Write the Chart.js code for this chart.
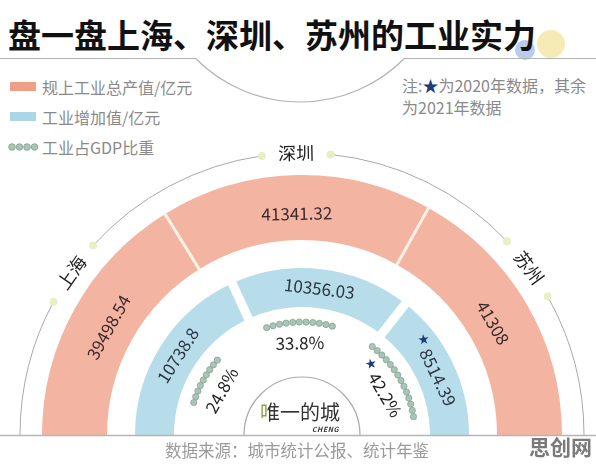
<!DOCTYPE html>
<html><head><meta charset="utf-8">
<script src="https://cdn.jsdelivr.net/npm/chart.js@4"></script>
<style>
html,body{margin:0;padding:0;background:#fff;}
#wrap{position:relative;width:596px;height:464px;overflow:hidden;font-family:"Noto Sans CJK SC","Noto Sans",sans-serif;}
.abs{position:absolute;white-space:nowrap;}
canvas{position:absolute;left:0;top:0;}
.leg{position:absolute;left:42px;font-size:16px;line-height:22px;color:#8a8a8a;white-space:nowrap;}
.wei{background:linear-gradient(90deg,#8e9c3a 42%,#333 42%);-webkit-background-clip:text;background-clip:text;color:transparent;}
</style></head><body>
<div id="wrap">
<svg class="abs" style="left:0;top:0" width="596" height="464">
  <circle cx="525" cy="50" r="10" fill="#a9bfe6" opacity="0.8"/>
  <circle cx="551" cy="44" r="14" fill="#f4e7a8" opacity="0.85"/>
  <path d="M0 58.5 H195.6 A147 147 0 0 0 404.4 58.5 H596" fill="none" stroke="#b3b3b3" stroke-width="1.2"/>
  <rect x="10" y="82" width="26" height="9" fill="#ef9f86"/>
  <rect x="10" y="112" width="26" height="9" fill="#aad6e8"/>
  <g fill="#aac6b6" stroke="#7f9f8f" stroke-width="0.8">
    <circle cx="12" cy="147" r="3.3"/><circle cx="19.5" cy="147" r="3.3"/><circle cx="27" cy="147" r="3.3"/><circle cx="34.5" cy="147" r="3.3"/>
  </g>
</svg>
<div class="abs" style="left:8px;top:14px;font-size:33px;line-height:40px;font-weight:700;color:#111;">盘一盘上海、深圳、苏州的工业实力</div>
<div class="leg" style="top:76px;">规上工业总产值/亿元</div>
<div class="leg" style="top:106px;">工业增加值/亿元</div>
<div class="leg" style="top:136px;">工业占GDP比重</div>
<div class="abs" style="left:402px;top:74px;font-size:16px;line-height:22px;color:#8a8a8a;">注:<span style="color:#1d3b7c">★</span>为2020年数据，其余<br>为2021年数据</div>
<canvas id="c1" width="596" height="464"></canvas>
<canvas id="c2" width="596" height="464"></canvas>
<svg class="abs" style="left:0;top:0" width="596" height="464">
  <line x1="0" y1="435.5" x2="596" y2="435.5" stroke="#b5b5b5" stroke-width="1.5"/>
</svg>
<div class="abs" style="left:240px;width:120px;text-align:center;top:398px;font-size:20px;line-height:28px;color:#333;"><span class="wei">唯</span>一的城</div>
<div class="abs" style="left:312px;top:425px;font-size:7px;line-height:9px;font-weight:700;font-style:italic;color:#333;letter-spacing:0.5px;">CHENG</div>
<div class="abs" style="left:165px;top:438px;font-size:16.5px;line-height:24px;color:#9a9a9a;">数据来源：城市统计公报、统计年鉴</div>
<div class="abs" style="left:529px;top:431px;font-size:21px;line-height:30px;font-weight:700;color:#7a7a7a;">思创网</div>
</div>
<script>
// ---- data ----
const cities = ['上海', '深圳', '苏州'];
const industrialOutput = [39498.54, 41341.32, 41308];   // 规上工业总产值/亿元
const valueAdded = [10738.8, 10356.03, 8514.39];         // 工业增加值/亿元
const gdpShare = [24.8, 33.8, 42.2];                     // 工业占GDP比重 %
const is2020 = [false, false, true];                     // ★ 2020年数据

// ---- style ----
const PINK = '#f4b4a2', BLUE = '#b7dcea';
const FONT = '"Noto Sans CJK SC","Noto Sans",sans-serif';

function arcs(chart, di) {
  return chart.getDatasetMeta(di).data.map(a => a.getProps(['x','y','startAngle','endAngle','innerRadius','outerRadius'], true));
}
function drawGaps(chart, di, width, color) {
  const ctx = chart.ctx, list = arcs(chart, di);
  ctx.save(); ctx.strokeStyle = color; ctx.lineWidth = width;
  for (let i = 1; i < list.length; i++) {
    const a = list[i], t = a.startAngle;
    ctx.beginPath();
    ctx.moveTo(a.x + (a.innerRadius - 1) * Math.cos(t), a.y + (a.innerRadius - 1) * Math.sin(t));
    ctx.lineTo(a.x + (a.outerRadius + 1) * Math.cos(t), a.y + (a.outerRadius + 1) * Math.sin(t));
    ctx.stroke();
  }
  ctx.restore();
}
function tangentText(ctx, text, cx, cy, r, theta, font, color, star) {
  ctx.save();
  ctx.translate(cx + r * Math.cos(theta), cy + r * Math.sin(theta));
  ctx.rotate(theta + Math.PI / 2);
  ctx.textBaseline = 'middle';
  ctx.font = font;
  const w = ctx.measureText(text).width;
  const sw = star ? 15 : 0;
  let x0 = -(w + sw) / 2;
  if (star) {
    ctx.font = '11px ' + FONT; ctx.fillStyle = '#1d3b7c'; ctx.textAlign = 'left';
    ctx.fillText('★', x0, -4);
    x0 += sw;
  }
  ctx.font = font; ctx.fillStyle = color; ctx.textAlign = 'left';
  ctx.fillText(text, x0, 0);
  ctx.restore();
}
const mid = a => (a.startAngle + a.endAngle) / 2;

const pinkPlugin = {
  id: 'pinkDecor',
  afterDatasetsDraw(chart) {
    const ctx = chart.ctx;
    drawGaps(chart, 0, 3, '#f8f1e4');
    const list = arcs(chart, 0);
    const cx = list[0].x, cy = list[0].y;
    // value labels
    list.forEach((a, i) => {
      tangentText(ctx, String(industrialOutput[i]), cx, cy, (a.innerRadius + a.outerRadius) / 2 - 6, mid(a), '17px ' + FONT, '#3a2b2b', false);
    });
    // outer thin arc with city labels
    const R = 282, half = 7 * Math.PI / 180;
    const labelAngles = list.map(a => -Math.PI / 2 + (mid(a) + Math.PI / 2) * 0.9);
    let start = -Math.PI;
    ctx.save(); ctx.strokeStyle = '#a8a8a8'; ctx.lineWidth = 1;
    labelAngles.forEach(t => {
      ctx.beginPath(); ctx.arc(cx, cy, R, start, t - half); ctx.stroke();
      start = t + half;
    });
    ctx.beginPath(); ctx.arc(cx, cy, R, start, 0); ctx.stroke();
    ctx.fillStyle = '#e8f0c2';
    labelAngles.forEach(t => {
      [t - half, t + half].forEach(e => {
        ctx.beginPath(); ctx.arc(cx + R * Math.cos(e), cy + R * Math.sin(e), 4, 0, Math.PI * 2); ctx.fill();
      });
    });
    ctx.restore();
    labelAngles.forEach((t, i) => tangentText(ctx, cities[i], cx, cy, R, t, '18px ' + FONT, '#222', false));
  }
};

const pinkChart = new Chart(document.getElementById('c1'), {
  type: 'doughnut',
  data: { labels: cities, datasets: [{ data: industrialOutput, backgroundColor: PINK, borderWidth: 0 }] },
  options: {
    responsive: false, devicePixelRatio: 1, animation: false, events: [],
    rotation: -90, circumference: 180, cutout: '75%',
    layout: { padding: { left: 42, right: 34, top: 175, bottom: 29 } },
    plugins: { legend: { display: false }, tooltip: { enabled: false } }
  },
  plugins: [pinkPlugin]
});

const bluePlugin = {
  id: 'blueDecor',
  afterDatasetsDraw(chart) {
    const ctx = chart.ctx;
    drawGaps(chart, 0, 9, '#ffffff');
    const list = arcs(chart, 0);
    const cx = list[0].x, cy = list[0].y;
    list.forEach((a, i) => {
      tangentText(ctx, String(valueAdded[i]), cx, cy, (a.innerRadius + a.outerRadius) / 2, mid(a), '17px ' + FONT, '#2b3640', is2020[i]);
    });
    // GDP share dotted arcs, centred on each city's sector
    const pinkArcs = arcs(pinkChart, 0);
    const rDots = 113, step = 6.5;
    ctx.save();
    ctx.fillStyle = '#a9c5b6'; ctx.strokeStyle = '#84a595'; ctx.lineWidth = 0.8;
    pinkArcs.forEach((a, i) => {
      const c = mid(a), span = gdpShare[i] * Math.PI / 180;
      const n = Math.round(rDots * span / step);
      for (let k = 0; k <= n; k++) {
        const t = c - span / 2 + span * k / n;
        ctx.beginPath(); ctx.arc(cx + rDots * Math.cos(t), cy + rDots * Math.sin(t), 3.1, 0, Math.PI * 2);
        ctx.fill(); ctx.stroke();
      }
    });
    ctx.restore();
    pinkArcs.forEach((a, i) => {
      tangentText(ctx, gdpShare[i] + '%', cx, cy, 92, mid(a), '17px ' + FONT, '#222', is2020[i]);
    });
    // inner semicircle
    ctx.save(); ctx.strokeStyle = '#a8a8a8'; ctx.lineWidth = 1.2;
    ctx.beginPath(); ctx.arc(cx, cy, 58, -Math.PI, 0); ctx.stroke();
    ctx.restore();
  }
};

new Chart(document.getElementById('c2'), {
  type: 'doughnut',
  data: { labels: cities, datasets: [{ data: valueAdded, backgroundColor: BLUE, borderWidth: 0 }] },
  options: {
    responsive: false, devicePixelRatio: 1, animation: false, events: [],
    rotation: -90, circumference: 180, cutout: '76.65%',
    layout: { padding: { left: 135, right: 127, top: 268, bottom: 29 } },
    plugins: { legend: { display: false }, tooltip: { enabled: false } }
  },
  plugins: [bluePlugin]
});
</script>
</body></html>
